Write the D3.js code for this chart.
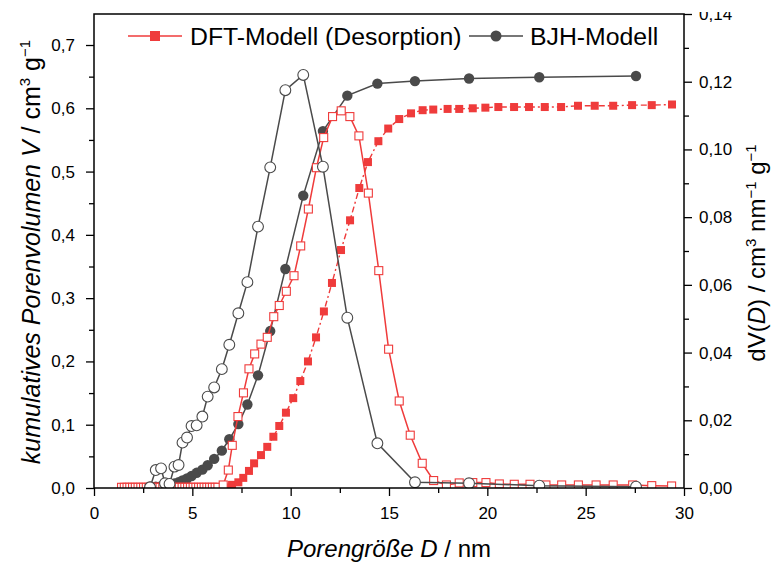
<!DOCTYPE html>
<html><head><meta charset="utf-8">
<script src="https://cdn.jsdelivr.net/npm/d3@7"></script>
<style>
body{margin:0;background:#fff;}
svg{display:block;font-family:"Liberation Sans",Arial,sans-serif;}
</style></head>
<body><svg id="c" width="774" height="564"></svg>
<script>
// ---- data ----
const xTicks = [0,5,10,15,20,25,30];
const yLeftTicks = [0,0.1,0.2,0.3,0.4,0.5,0.6,0.7];
const yRightTicks = [0,0.02,0.04,0.06,0.08,0.10,0.12,0.14];

// DFT cumulative (filled squares, left axis)
const dftCumD = [6.80,7.02,7.34,7.59,7.88,8.14,8.49,8.81,9.12,9.42,9.76,10.13,10.49,10.88,11.29,11.69,12.10,12.56,13.02,13.49,13.93,14.46,14.96,15.52,16.12,16.71,17.25,17.98,18.57,19.26,19.90,20.56,21.36,22.12,22.92,23.75,24.61,25.46,26.40,27.36,28.36,29.39];
const dftCumV = [0.001,0.005,0.009,0.016,0.027,0.039,0.052,0.065,0.081,0.098,0.119,0.142,0.169,0.200,0.238,0.279,0.324,0.376,0.423,0.474,0.515,0.548,0.568,0.583,0.592,0.597,0.598,0.599,0.599,0.600,0.601,0.602,0.602,0.602,0.602,0.602,0.604,0.604,0.604,0.605,0.605,0.606];

// DFT differential (open squares, right axis)
const dftDiffD = [1.40,1.54,1.68,1.82,1.96,2.10,2.24,2.38,2.52,2.66,2.80,2.94,3.08,3.22,3.36,3.50,3.64,3.78,3.92,4.06,4.20,4.34,4.48,4.62,4.76,4.90,5.04,5.18,5.32,5.46,5.60,5.74,5.88,6.02,6.16,6.30,
  6.57,6.83,7.03,7.32,7.60,7.88,8.17,8.49,8.81,9.14,9.42,9.78,10.17,10.51,10.90,11.31,11.68,12.13,12.57,13.01,13.47,13.95,14.48,14.98,15.52,16.08,16.69,17.27,17.92,18.57,19.26,19.93,20.61,21.37,22.17,22.98,23.78,24.63,25.53,26.40,27.39,28.36,29.37];
const dftDiffV = [0.0002,0.0002,0.0002,0.0002,0.0002,0.0002,0.0002,0.0002,0.0002,0.0002,0.0002,0.0002,0.0002,0.0002,0.0002,0.0002,0.0002,0.0002,0.0002,0.0002,0.0002,0.0002,0.0002,0.0002,0.0002,0.0002,0.0002,0.0002,0.0002,0.0002,0.0002,0.0002,0.0002,0.0002,0.0002,0.0002,
  0.0009,0.0053,0.0126,0.0211,0.0281,0.0352,0.0396,0.0425,0.0445,0.0506,0.0539,0.0581,0.0627,0.0715,0.0824,0.0946,0.1035,0.1097,0.1114,0.1097,0.1040,0.0871,0.0642,0.0410,0.0257,0.0156,0.0073,0.0022,0.0009,0.0015,0.0016,0.0016,0.0012,0.0011,0.0011,0.0009,0.0009,0.0009,0.0009,0.0009,0.0009,0.0007,0.0006];

// BJH (filled circles cumulative left axis, open circles differential right axis)
const bjhD = [2.85,3.14,3.41,3.61,3.84,4.09,4.30,4.50,4.73,4.96,5.22,5.51,5.78,6.11,6.50,6.88,7.34,7.80,8.34,8.96,9.73,10.64,11.64,12.88,14.41,16.32,19.07,22.64,27.56];
const bjhCumV = [0.002,0.002,0.003,0.004,0.006,0.007,0.009,0.012,0.015,0.019,0.024,0.029,0.036,0.046,0.059,0.077,0.101,0.132,0.178,0.248,0.346,0.462,0.564,0.620,0.639,0.643,0.647,0.649,0.651];
const bjhDiffV = [0.0002,0.0053,0.0058,0.0014,0.0012,0.0063,0.0068,0.0134,0.0149,0.0183,0.0185,0.0211,0.0270,0.0297,0.0351,0.0423,0.0516,0.0608,0.0772,0.0947,0.1175,0.1220,0.0949,0.0503,0.0132,0.0017,0.0014,0.0007,0.0004];

const legendLabels = ["DFT-Modell (Desorption)","BJH-Modell"];

// ---- drawing ----
const RED = "#ef3b3b", DARK = "#4a4a4a";
const L=94, R=684, T=14, B=488;
const svg = d3.select("#c");
const x = d3.scaleLinear().domain([0,30]).range([L,R]);
const yL = d3.scaleLinear().domain([0,0.749]).range([B,T]);
const yR = d3.scaleLinear().domain([0,0.14]).range([B,T]);
const comma = f => d => d3.format(f)(d).replace(".",",");

const defs = svg.append("defs");
defs.append("clipPath").attr("id","clip")
  .append("rect").attr("x",L).attr("y",T).attr("width",R-L).attr("height",B-T);
defs.append("clipPath").attr("id","clipTop")
  .append("rect").attr("x",-20).attr("y",12).attr("width",200).attr("height",552);

const zip = (a,b) => a.map((d,i)=>[d,b[i]]);
const dftCum = zip(dftCumD, dftCumV);
const dftDiff = zip(dftDiffD, dftDiffV);
const bjhCum = zip(bjhD, bjhCumV);
const bjhDiff = zip(bjhD, bjhDiffV);

const g = svg.append("g").attr("clip-path","url(#clip)");
const lineL = d3.line().x(d=>x(d[0])).y(d=>yL(d[1]));
const lineR = d3.line().x(d=>x(d[0])).y(d=>yR(d[1]));

// DFT cumulative
g.append("path").datum(dftCum).attr("d",lineL).attr("fill","none")
  .attr("stroke",RED).attr("stroke-width",1.4).attr("stroke-dasharray","6,3,2,3");
g.selectAll(".dc").data(dftCum).join("rect")
  .attr("x",d=>x(d[0])-4).attr("y",d=>yL(d[1])-4).attr("width",8).attr("height",8)
  .attr("fill",RED);

// BJH cumulative
g.append("path").datum(bjhCum).attr("d",lineL).attr("fill","none")
  .attr("stroke",DARK).attr("stroke-width",1.5);
g.selectAll(".bc").data(bjhCum).join("circle")
  .attr("cx",d=>x(d[0])).attr("cy",d=>yL(d[1])).attr("r",5.2).attr("fill",DARK);

// DFT differential
g.append("path").datum(dftDiff).attr("d",lineR).attr("fill","none")
  .attr("stroke",RED).attr("stroke-width",1.5);
g.selectAll(".dd").data(dftDiff).join("rect")
  .attr("x",d=>x(d[0])-4).attr("y",d=>yR(d[1])-4).attr("width",8).attr("height",8)
  .attr("fill","#fff").attr("stroke",RED).attr("stroke-width",1.1);

// BJH differential
g.append("path").datum(bjhDiff).attr("d",lineR).attr("fill","none")
  .attr("stroke",DARK).attr("stroke-width",1.5);
g.selectAll(".bd").data(bjhDiff).join("circle")
  .attr("cx",d=>x(d[0])).attr("cy",d=>yR(d[1])).attr("r",5.4)
  .attr("fill","#fff").attr("stroke",DARK).attr("stroke-width",1.1);

// ---- axes ----
const fs = "17px";
function styleAxis(sel){
  sel.select(".domain").remove();
  sel.selectAll("line").attr("stroke","#000").attr("stroke-width",1.3);
  sel.selectAll("text").attr("font-size",fs).attr("fill","#000")
    .attr("font-family","'Liberation Sans',Arial,sans-serif");
}
const xMinor = [2.5,7.5,12.5,17.5,22.5,27.5];
const yLMinor = [0.05,0.15,0.25,0.35,0.45,0.55,0.65];
const yRMinor = [0.01,0.03,0.05,0.07,0.09,0.11,0.13];

svg.append("g").attr("transform",`translate(0,${B})`)
  .call(d3.axisBottom(x).tickValues(xTicks).tickSize(8).tickPadding(11).tickFormat(d3.format("d"))).call(styleAxis);
svg.append("g").attr("transform",`translate(0,${B})`)
  .call(d3.axisBottom(x).tickValues(xMinor).tickSize(5).tickFormat("")).call(styleAxis);
svg.append("g").attr("transform",`translate(${L},0)`)
  .call(d3.axisLeft(yL).tickValues(yLeftTicks).tickSize(8).tickPadding(11).tickFormat(comma(".1f"))).call(styleAxis);
svg.append("g").attr("transform",`translate(${L},0)`)
  .call(d3.axisLeft(yL).tickValues(yLMinor).tickSize(5).tickFormat("")).call(styleAxis);
svg.append("g").attr("transform",`translate(${R},0)`).attr("clip-path","url(#clipTop)")
  .call(d3.axisRight(yR).tickValues(yRightTicks).tickSize(8).tickPadding(7).tickFormat(comma(".2f"))).call(styleAxis);
svg.append("g").attr("transform",`translate(${R},0)`)
  .call(d3.axisRight(yR).tickValues(yRMinor).tickSize(5).tickFormat("")).call(styleAxis);

// frame
svg.append("rect").attr("x",L).attr("y",T).attr("width",R-L).attr("height",B-T)
  .attr("fill","none").attr("stroke","#000").attr("stroke-width",1.5);

// ---- titles ----
const xt = svg.append("text").attr("x",(L+R)/2).attr("y",557).attr("text-anchor","middle")
  .attr("font-size",24);
xt.append("tspan").attr("font-style","italic").text("Porengröße D");
xt.append("tspan").text(" / nm");

const lt = svg.append("text").attr("transform",`translate(40,252) rotate(-90)`)
  .attr("text-anchor","middle").attr("font-size",25);
lt.append("tspan").attr("font-style","italic").text("kumulatives Porenvolumen V");
lt.append("tspan").text(" / cm");
lt.append("tspan").attr("font-size",15).attr("dy",-10).text("3");
lt.append("tspan").attr("dy",10).text(" g");
lt.append("tspan").attr("font-size",15).attr("dy",-10).text("−1");

const rt = svg.append("text").attr("transform",`translate(765,253) rotate(-90)`)
  .attr("text-anchor","middle").attr("font-size",24);
rt.append("tspan").text("dV(");
rt.append("tspan").attr("font-style","italic").text("D");
rt.append("tspan").text(") / cm");
rt.append("tspan").attr("font-size",15).attr("dy",-9).text("3");
rt.append("tspan").attr("dy",9).text(" nm");
rt.append("tspan").attr("font-size",15).attr("dy",-9).text("−1");
rt.append("tspan").attr("dy",9).text(" g");
rt.append("tspan").attr("font-size",15).attr("dy",-9).text("−1");

// ---- legend ----
const lg = svg.append("g");
const items = [
  {x0:128, x1:182, color:RED, shape:"square", tx:190, label:legendLabels[0]},
  {x0:469, x1:523, color:DARK, shape:"circle", tx:530, label:legendLabels[1]}
];
const ly = 36;
items.forEach(it=>{
  lg.append("line").attr("x1",it.x0).attr("x2",it.x1).attr("y1",ly).attr("y2",ly)
    .attr("stroke",it.color).attr("stroke-width",1.5);
  const cx=(it.x0+it.x1)/2;
  if(it.shape==="square") lg.append("rect").attr("x",cx-5).attr("y",ly-5).attr("width",10).attr("height",10).attr("fill",it.color);
  else lg.append("circle").attr("cx",cx).attr("cy",ly).attr("r",5.5).attr("fill",it.color);
  lg.append("text").attr("x",it.tx).attr("y",ly+9).attr("font-size",24.8).text(it.label);
});
</script></body></html>
